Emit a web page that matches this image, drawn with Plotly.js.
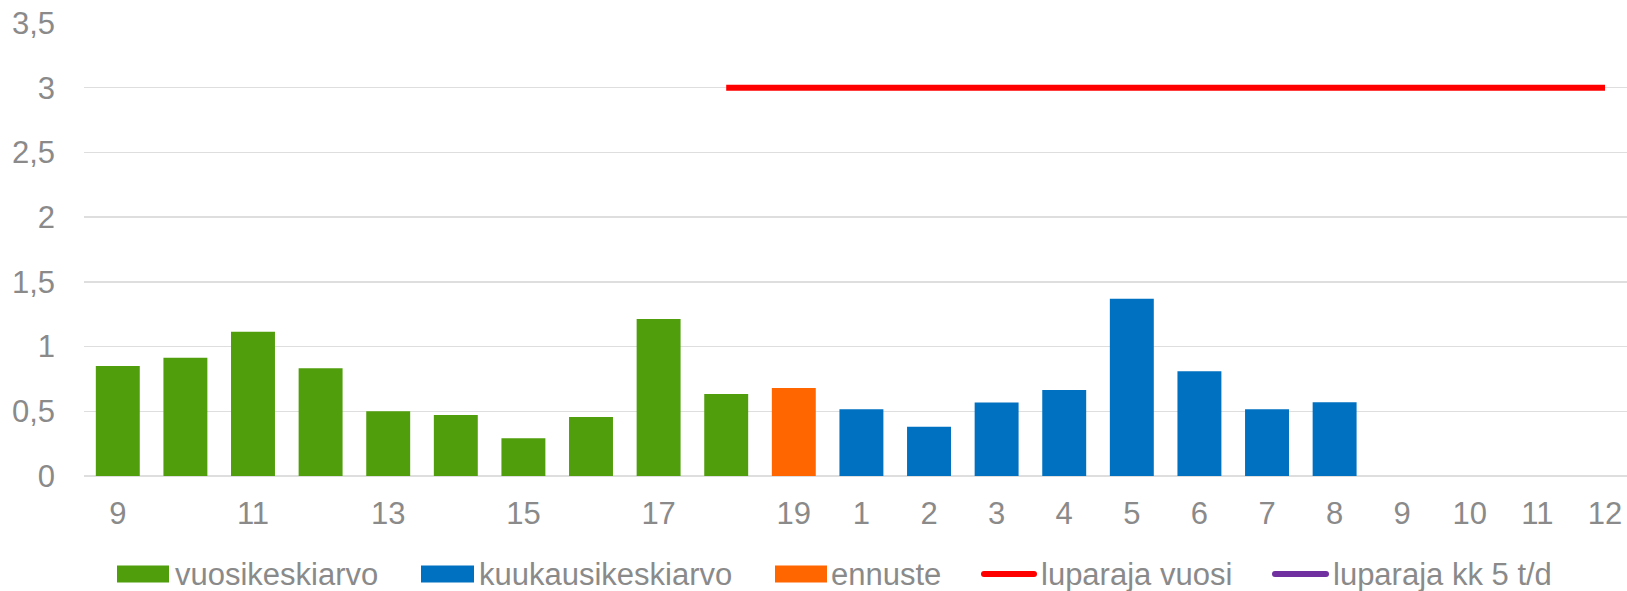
<!DOCTYPE html>
<html>
<head>
<meta charset="utf-8">
<script src="https://cdn.plot.ly/plotly-3.0.1.min.js"></script>
<style>
html,body{margin:0;padding:0;background:#fff;overflow:hidden;}
#chart{width:1627px;height:591px;}
</style>
</head>
<body>
<div id="chart"></div>
<script>
// ---- data ----
const yearLabels = ['9','10','11','12','13','14','15','16','17','18','19'];
const monthLabels = ['1','2','3','4','5','6','7','8','9','10','11','12'];
const annualAvg = [0.85, 0.914, 1.115, 0.832, 0.50, 0.471, 0.291, 0.456, 1.213, 0.634]; // years 9..18
const forecast = [0.68]; // year 19
const monthlyAvg = [0.515, 0.381, 0.567, 0.665, 1.37, 0.809, 0.515, 0.569]; // months 1..8
const annualLimit = 3;
const monthlyLimit = 5;
const shownTickLabels = ['9','11','13','15','17','19','1','2','3','4','5','6','7','8','9','10','11','12'];
const seriesNames = ['vuosikeskiarvo','kuukausikeskiarvo','ennuste','luparaja vuosi','luparaja kk 5 t/d'];

// ---- build category positions ----
const allLabels = yearLabels.concat(monthLabels);
const idx = allLabels.map((_, i) => i);
const nYears = yearLabels.length;
const xAnnual = annualAvg.map((_, i) => i);
const xForecast = [nYears - 1];
const xMonthly = monthlyAvg.map((_, i) => nYears + i);
const xAnnualLimit = idx.slice(nYears - 2);
const yAnnualLimit = xAnnualLimit.map(() => annualLimit);
const xMonthlyLimit = idx.slice(nYears);
const yMonthlyLimit = xMonthlyLimit.map(() => monthlyLimit);
const tickvals = [];
yearLabels.forEach((_, i) => { if (i % 2 === 0) tickvals.push(i); });
monthLabels.forEach((_, i) => tickvals.push(nYears + i));

const colors = {green:'#519E0C', blue:'#0070C0', orange:'#FF6600', red:'#FF0000', purple:'#7030A0'};
const textColor = '#8a8a8a';
const FONT = 'Liberation Sans, Arial, sans-serif';
const FS = 31;

const W = 1627, H = 591, L = 84, R = 0, T = 23, B = 115;
const px = x => (x - L) / (W - L - R);
const py = y => (H - B - y) / (H - T - B);

const traces = [
  {type:'bar', x:xAnnual, y:annualAvg, name:seriesNames[0], marker:{color:colors.green}, hoverinfo:'y'},
  {type:'bar', x:xMonthly, y:monthlyAvg, name:seriesNames[1], marker:{color:colors.blue}, hoverinfo:'y'},
  {type:'bar', x:xForecast, y:forecast, name:seriesNames[2], marker:{color:colors.orange}, hoverinfo:'y'},
  {type:'scatter', mode:'lines', x:xAnnualLimit, y:yAnnualLimit, name:seriesNames[3], line:{color:colors.red, width:6}, hoverinfo:'y'},
  {type:'scatter', mode:'lines', x:xMonthlyLimit, y:yMonthlyLimit, name:seriesNames[4], line:{color:colors.purple, width:6}, hoverinfo:'y'}
];

// custom legend (pixel positions)
const legendY = 574;
const legendItems = [
  {kind:'rect', color:colors.green, x0:117, x1:169, tx:175, text:seriesNames[0]},
  {kind:'rect', color:colors.blue, x0:421, x1:474, tx:479, text:seriesNames[1]},
  {kind:'rect', color:colors.orange, x0:775, x1:827, tx:831, text:seriesNames[2]},
  {kind:'line', color:colors.red, x0:981, x1:1037, tx:1041, text:seriesNames[3]},
  {kind:'line', color:colors.purple, x0:1272, x1:1329, tx:1333, text:seriesNames[4]}
];
const shapes = [];
const annotations = [];
legendItems.forEach(it => {
  if (it.kind === 'rect') {
    shapes.push({type:'rect', xref:'paper', yref:'paper', x0:px(it.x0), x1:px(it.x1),
      y0:py(legendY + 8.5), y1:py(legendY - 8.5), fillcolor:it.color, line:{width:0}});
  } else {
    shapes.push({type:'line', xref:'paper', yref:'paper', x0:px(it.x0 + 3), x1:px(it.x1 - 3),
      y0:py(legendY), y1:py(legendY), line:{color:it.color, width:6}});
    shapes.push({type:'circle', xref:'paper', yref:'paper', x0:px(it.x0), x1:px(it.x0 + 6),
      y0:py(legendY + 3), y1:py(legendY - 3), fillcolor:it.color, line:{width:0}});
    shapes.push({type:'circle', xref:'paper', yref:'paper', x0:px(it.x1 - 6), x1:px(it.x1),
      y0:py(legendY + 3), y1:py(legendY - 3), fillcolor:it.color, line:{width:0}});
  }
  annotations.push({xref:'paper', yref:'paper', x:px(it.tx - 1), y:py(legendY), xanchor:'left', yanchor:'middle',
    text:it.text, showarrow:false, font:{family:FONT, size:FS, color:textColor}, borderpad:0});
});

const layout = {
  width:W, height:H,
  margin:{l:L, r:R, t:T, b:B, pad:0},
  paper_bgcolor:'#ffffff', plot_bgcolor:'#ffffff',
  separators:', ',
  barmode:'overlay', bargap:0.35,
  showlegend:false,
  font:{family:FONT, size:FS, color:textColor},
  xaxis:{type:'linear', range:[-0.5, 22.325], tickvals:tickvals, ticktext:shownTickLabels,
    showgrid:false, zeroline:false, showline:false, ticks:'', ticklabelstandoff:16,
    tickfont:{family:FONT, size:FS, color:textColor}, fixedrange:true},
  yaxis:{range:[0, 3.5], dtick:0.5, tick0:0, showgrid:true, gridcolor:'#dedede', gridwidth:1.3,
    zeroline:true, zerolinecolor:'#dedede', zerolinewidth:1.5, showline:false, ticks:'',
    ticklabelstandoff:28, tickfont:{family:FONT, size:FS, color:textColor}, fixedrange:true},
  shapes:shapes,
  annotations:annotations
};

Plotly.newPlot('chart', traces, layout, {displayModeBar:false, staticPlot:true});
</script>
</body>
</html>
